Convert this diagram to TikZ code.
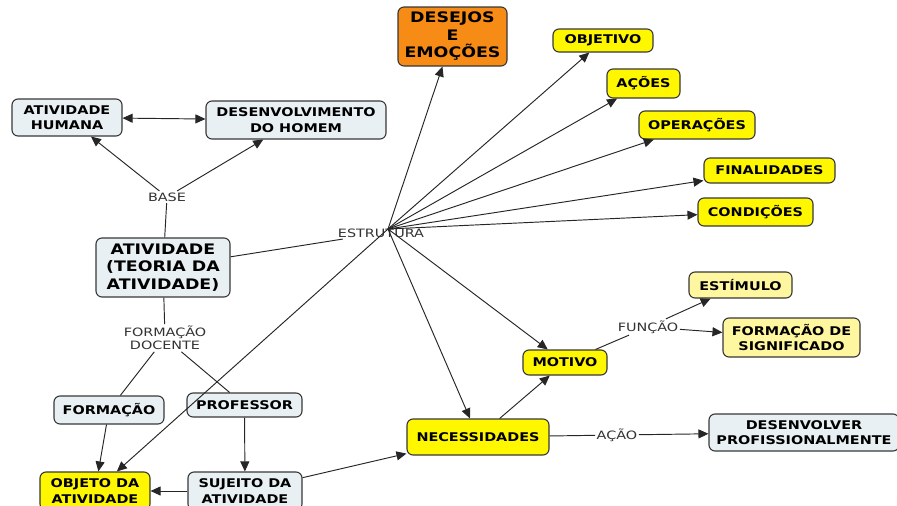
\documentclass[tikz,border=0pt]{standalone}
\usepackage{fontspec}
\setmainfont{DejaVu Sans}[FakeStretch=1.2]
\newfontfamily\lblfont{DejaVu Sans}[FakeStretch=1.25]
\usetikzlibrary{arrows.meta}

\definecolor{boxgrey}{RGB}{233,240,243}
\definecolor{boxyellow}{RGB}{255,247,0}
\definecolor{paleyellow}{RGB}{255,246,160}
\definecolor{boxorange}{RGB}{246,140,22}
\definecolor{edgegrey}{RGB}{55,55,55}

\begin{document}
\begin{tikzpicture}[x = 1pt, y = -1pt,
        cbox/.style = {draw = edgegrey, line width = 1.1pt, rounded corners = 6pt,
            align = center, inner sep = 2pt, font = \fontsize{12}{15.5}\selectfont\bfseries},
        greybox/.style = {cbox, fill = boxgrey},
        yellowbox/.style = {cbox, fill = boxyellow},
        paleybox/.style = {cbox, fill = paleyellow},
        bigtext/.style = {font = \fontsize{14.5}{17.5}\selectfont\bfseries},
        lbl/.style = {align = center, inner sep = 1.5pt, text = black!80,
            font = \lblfont\fontsize{11.5}{13.5}\selectfont},
        link/.style = {line width = 0.95pt, black!85},
        arr/.style = {link, -{Triangle[length = 10pt, width = 9pt]}}]
        \useasboundingbox (0, 0) rectangle (897, 506);

        % conceitos
        \node[greybox, minimum width = 110pt, minimum height = 37pt] (humana) at (67, 117.5) {ATIVIDADE\\HUMANA};
        \node[greybox, minimum width = 180pt, minimum height = 38pt] (homem) at (296, 120) {DESENVOLVIMENTO\\DO HOMEM};
        \node[greybox, bigtext, minimum width = 134pt, minimum height = 59pt] (atividade) at (163, 267.5) {ATIVIDADE\\(TEORIA DA\\ATIVIDADE)};
        \node[cbox, bigtext, fill = boxorange, minimum width = 109pt, minimum height = 59pt] (desejos) at (452.5, 36.5) {DESEJOS\\E\\EMOÇÕES};
        \node[yellowbox, minimum width = 100pt, minimum height = 23pt] (objetivo) at (603, 40.5) {OBJETIVO};
        \node[yellowbox, minimum width = 73pt, minimum height = 29pt] (acoes) at (643.5, 83.5) {AÇÕES};
        \node[yellowbox, minimum width = 116pt, minimum height = 28pt] (operacoes) at (697, 125) {OPERAÇÕES};
        \node[yellowbox, minimum width = 131pt, minimum height = 25pt] (finalidades) at (769.5, 170.5) {FINALIDADES};
        \node[yellowbox, minimum width = 115pt, minimum height = 28pt] (condicoes) at (755.5, 212) {CONDIÇÕES};
        \node[paleybox, minimum width = 103pt, minimum height = 26pt] (estimulo) at (740.5, 285) {ESTÍMULO};
        \node[paleybox, minimum width = 137pt, minimum height = 39pt] (significado) at (791.5, 337.5) {FORMAÇÃO DE\\SIGNIFICADO};
        \node[yellowbox, minimum width = 84pt, minimum height = 25pt] (motivo) at (565, 362.5) {MOTIVO};
        \node[yellowbox, minimum width = 142pt, minimum height = 36pt] (necessidades) at (478, 437) {NECESSIDADES};
        \node[greybox, minimum width = 190pt, minimum height = 37pt] (desenvolver) at (804, 432.5) {DESENVOLVER\\PROFISSIONALMENTE};
        \node[greybox, minimum width = 110pt, minimum height = 28pt] (formacao) at (109, 410) {FORMAÇÃO};
        \node[greybox, minimum width = 115pt, minimum height = 24pt] (professor) at (244.5, 405) {PROFESSOR};
        \node[yellowbox, minimum width = 110pt, minimum height = 38pt] (objeto) at (95, 491) {OBJETO DA\\ATIVIDADE};
        \node[greybox, minimum width = 114pt, minimum height = 38pt] (sujeito) at (245, 491) {SUJEITO DA\\ATIVIDADE};

        % frases de ligacao
        \node[lbl] (base) at (167, 197) {BASE};
        \node[lbl] (estrutura) at (381, 233) {ESTRUTURA};
        \coordinate (hub) at (388, 229);
        \node[lbl] (funcao) at (648, 327) {FUNÇÃO};
        \node[lbl] (acao) at (617, 435) {AÇÃO};
        \node[lbl] (docente) at (165, 338) {FORMAÇÃO\\DOCENTE};

        \draw[link, {Triangle[length = 10pt, width = 9pt]}-{Triangle[length = 10pt, width = 9pt]}] (humana) -- (homem);
        \draw[link] (atividade) -- (base);
        \draw[arr] (base) -- (humana);
        \draw[arr] (base) -- (homem);

        \draw[link] (atividade) -- (estrutura);
        \begin{scope}[arr]
            \draw (hub) -- (desejos);
            \draw (hub) -- (objetivo);
            \draw (hub) -- (acoes);
            \draw (hub) -- (operacoes);
            \draw (hub) -- (finalidades);
            \draw (hub) -- (condicoes);
            \draw (hub) -- (motivo);
            \draw (hub) -- (necessidades);
            \draw (hub) -- (objeto);
        \end{scope}

        \draw[link] (atividade) -- (docente);
        \draw[link] (docente) -- (formacao);
        \draw[link] (docente) -- (professor);
        \draw[arr] (formacao) -- (objeto);
        \draw[arr] (professor) -- (sujeito);
        \draw[arr] (sujeito) -- (objeto);
        \draw[arr] (sujeito) -- (necessidades);

        \draw[arr] (necessidades) -- (motivo);
        \draw[link] (motivo) -- (funcao);
        \draw[arr] (funcao) -- (estimulo);
        \draw[arr] (funcao) -- (significado);
        \draw[link] (necessidades) -- (acao);
        \draw[arr] (acao) -- (desenvolver);
    \end{tikzpicture}
\end{document}
